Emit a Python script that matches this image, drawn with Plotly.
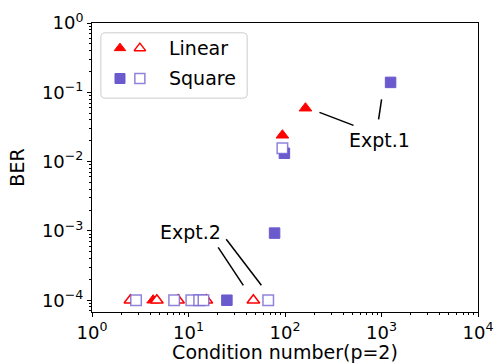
import plotly.graph_objects as go
import math

# ---- data ----
lin_filled_x = [4.3, 94, 163]
lin_filled_y = [1e-4, 0.024, 0.059]
lin_hollow_x = [2.5, 4.7, 7.8, 15.3, 47]
lin_hollow_y = [1e-4, 1e-4, 1e-4, 1e-4, 1e-4]
sq_filled_x = [25, 78, 98.6, 1242]
sq_filled_y = [1e-4, 9.3e-4, 0.0132, 0.139]
sq_hollow_x = [2.86, 7.1, 10.7, 12.9, 14.3, 67, 94]
sq_hollow_y = [1e-4, 1e-4, 1e-4, 1e-4, 1e-4, 1e-4, 0.0156]

x_tickvals = [1, 10, 100, 1000, 10000]
x_ticktext = ["10<sup>0</sup>", "10<sup>1</sup>", "10<sup>2</sup>", "10<sup>3</sup>", "10<sup>4</sup>"]
y_tickvals = [1e-4, 1e-3, 1e-2, 1e-1, 1]
y_ticktext = ["10<sup>−4</sup>", "10<sup>−3</sup>", "10<sup>−2</sup>", "10<sup>−1</sup>", "10<sup>0</sup>"]

# annotation leader lines (data coords)
expt1_lines = [([227.6, 513], [0.0513, 0.0333]), ([1002, 933], [0.0793, 0.0408])]
expt2_lines = [([20.3, 37.0], [5.8e-4, 1.64e-4]), ([24.6, 56.9], [7.57e-4, 1.64e-4])]
expt1_label = (944, 0.0203)
expt2_label = (10.4, 9.55e-4)

RED = "#ff0000"
BLUE = "#6a5acd"
BLUE_LIGHT = "rgba(106,90,205,0.75)"
FONT = "DejaVu Sans"
MS = 11

fig = go.Figure()

for xs, ys in expt1_lines + expt2_lines:
    fig.add_trace(go.Scatter(x=xs, y=ys, mode="lines", line=dict(color="black", width=1.5),
                             showlegend=False, hoverinfo="skip"))

fig.add_trace(go.Scatter(x=lin_filled_x, y=lin_filled_y, mode="markers", showlegend=False,
                         marker=dict(symbol="triangle-up", size=MS, color=RED, line=dict(color=RED, width=1))))
fig.add_trace(go.Scatter(x=lin_hollow_x, y=lin_hollow_y, mode="markers", showlegend=False,
                         marker=dict(symbol="triangle-up", size=MS, color="white", line=dict(color=RED, width=1.5))))
fig.add_trace(go.Scatter(x=sq_filled_x, y=sq_filled_y, mode="markers", showlegend=False,
                         marker=dict(symbol="square", size=MS - 0.5, color=BLUE, line=dict(color=BLUE, width=1))))
fig.add_trace(go.Scatter(x=sq_hollow_x, y=sq_hollow_y, mode="markers", showlegend=False,
                         marker=dict(symbol="square", size=MS - 0.5, color="white", line=dict(color=BLUE_LIGHT, width=1.5))))

# ---- manual legend (overlay axes in 0..1 units) ----
leg_x = [0.0725, 0.124]
leg_rows = [0.913, 0.808]
fig.add_trace(go.Scatter(x=[leg_x[0]], y=[leg_rows[0]], xaxis="x2", yaxis="y2", mode="markers", showlegend=False,
                         marker=dict(symbol="triangle-up", size=10, color=RED, line=dict(color=RED, width=1))))
fig.add_trace(go.Scatter(x=[leg_x[1]], y=[leg_rows[0]], xaxis="x2", yaxis="y2", mode="markers", showlegend=False,
                         marker=dict(symbol="triangle-up", size=10, color="white", line=dict(color=RED, width=1.5))))
fig.add_trace(go.Scatter(x=[leg_x[0]], y=[leg_rows[1]], xaxis="x2", yaxis="y2", mode="markers", showlegend=False,
                         marker=dict(symbol="square", size=10, color=BLUE, line=dict(color=BLUE, width=1))))
fig.add_trace(go.Scatter(x=[leg_x[1]], y=[leg_rows[1]], xaxis="x2", yaxis="y2", mode="markers", showlegend=False,
                         marker=dict(symbol="square", size=10, color="white", line=dict(color=BLUE_LIGHT, width=1.5))))

# rounded legend box
x0, x1, y0, y1 = 0.023, 0.402, 0.740, 0.966
rx, ry = 0.011, 0.014
path = (f"M {x0+rx},{y0} L {x1-rx},{y0} Q {x1},{y0} {x1},{y0+ry} L {x1},{y1-ry} "
        f"Q {x1},{y1} {x1-rx},{y1} L {x0+rx},{y1} Q {x0},{y1} {x0},{y1-ry} "
        f"L {x0},{y0+ry} Q {x0},{y0} {x0+rx},{y0} Z")
fig.add_shape(type="path", path=path, xref="paper", yref="paper",
              line=dict(color="#cccccc", width=1), fillcolor="rgba(255,255,255,0.8)", layer="below")

annotations = [
    dict(x=0.194, y=leg_rows[0], xref="paper", yref="paper", text="Linear", showarrow=False,
         xanchor="left", yanchor="middle", font=dict(family=FONT, size=19, color="black")),
    dict(x=0.194, y=leg_rows[1], xref="paper", yref="paper", text="Square", showarrow=False,
         xanchor="left", yanchor="middle", font=dict(family=FONT, size=19, color="black")),
    dict(x=math.log10(expt1_label[0]), y=math.log10(expt1_label[1]), xref="x", yref="y", text="Expt.1",
         showarrow=False, xanchor="center", yanchor="middle", font=dict(family=FONT, size=19, color="black")),
    dict(x=math.log10(expt2_label[0]), y=math.log10(expt2_label[1]), xref="x", yref="y", text="Expt.2",
         showarrow=False, xanchor="center", yanchor="middle", font=dict(family=FONT, size=19, color="black")),
]

x_minor = [k * 10 ** d for d in range(0, 4) for k in range(2, 10)]
y_minor = [k * 10 ** d for d in range(-5, 0) for k in range(2, 10)]

fig.update_layout(
    width=496, height=363,
    margin=dict(l=92, r=18, t=23, b=51, autoexpand=False),
    paper_bgcolor="white", plot_bgcolor="white",
    font=dict(family=FONT, size=18, color="black"),
    annotations=annotations,
    xaxis=dict(type="log", range=[0, 4], tickvals=x_tickvals, ticktext=x_ticktext, automargin=False,
               ticks="outside", ticklen=4, tickwidth=1, tickcolor="black",
               showline=True, linecolor="black", linewidth=1, mirror=True, showgrid=False, zeroline=False,
               minor=dict(tickvals=x_minor, ticks="outside", ticklen=2, tickwidth=0.8, tickcolor="black", showgrid=False),
               title=dict(text="Condition number(p=2)", font=dict(family=FONT, size=19), standoff=12),
               tickfont=dict(family=FONT, size=18)),
    yaxis=dict(type="log", range=[-4.17, 0], tickvals=y_tickvals, ticktext=y_ticktext, automargin=False,
               ticks="outside", ticklen=4, tickwidth=1, tickcolor="black",
               showline=True, linecolor="black", linewidth=1, mirror=True, showgrid=False, zeroline=False,
               minor=dict(tickvals=y_minor, ticks="outside", ticklen=2, tickwidth=0.8, tickcolor="black", showgrid=False),
               title=dict(text="BER", font=dict(family=FONT, size=19), standoff=12),
               tickfont=dict(family=FONT, size=18)),
    xaxis2=dict(overlaying="x", range=[0, 1], visible=False, fixedrange=True),
    yaxis2=dict(overlaying="y", range=[0, 1], visible=False, fixedrange=True),
)

fig.write_html("out.html")
